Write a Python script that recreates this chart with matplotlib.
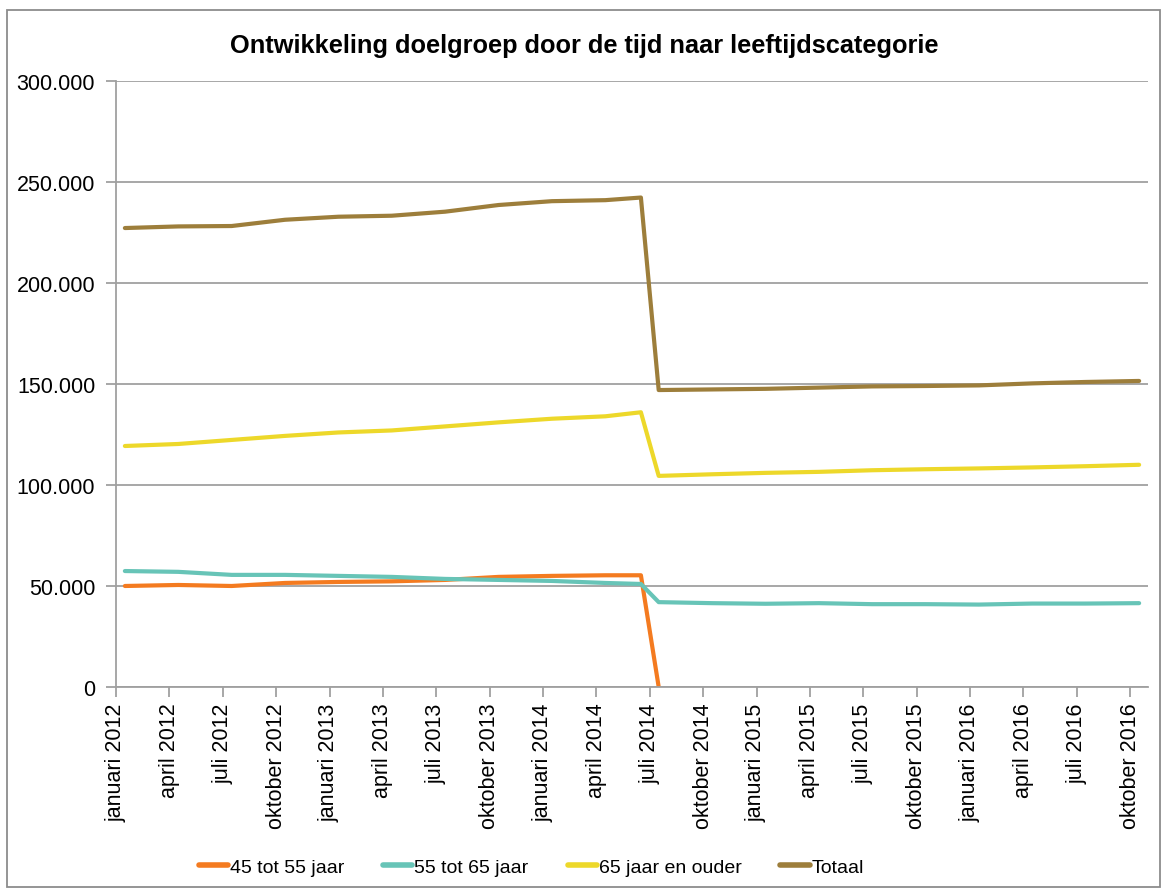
import numpy as np
import pandas as pd
import matplotlib
matplotlib.use('Agg')
import matplotlib.pyplot as plt
from matplotlib.patches import Rectangle
from matplotlib.ticker import FuncFormatter

plt.rcParams['font.family'] = ['Liberation Sans', 'DejaVu Sans']

# meetmomenten (maand) en aantallen x 1000
maanden = ['2012-01', '2012-04', '2012-07', '2012-10', '2013-01', '2013-04', '2013-07',
           '2013-10', '2014-01', '2014-04', '2014-06', '2014-07', '2014-10', '2015-01',
           '2015-04', '2015-07', '2015-10', '2016-01', '2016-04', '2016-07', '2016-10']

leeftijd_45_55 = [50.0, 50.5, 50.0, 51.5, 52.0, 52.3, 53.0, 54.5, 55.0, 55.3, 55.3, 0.0,
                  np.nan, np.nan, np.nan, np.nan, np.nan, np.nan, np.nan, np.nan, np.nan]
leeftijd_55_65 = [57.4, 57.0, 55.5, 55.5, 55.0, 54.5, 53.5, 53.0, 52.5, 51.5, 51.0, 42.0,
                  41.5, 41.2, 41.5, 41.0, 41.0, 40.8, 41.3, 41.3, 41.5]
leeftijd_65_plus = [119.3, 120.3, 122.3, 124.3, 126.0, 127.0, 129.0, 131.0, 132.8, 134.0, 136.0,
                    104.5, 105.3, 106.0, 106.5, 107.3, 107.8, 108.2, 108.7, 109.3, 110.0]
totaal = [227.2, 228.0, 228.2, 231.3, 232.8, 233.3, 235.3, 238.6, 240.5, 241.0, 242.3,
          147.0, 147.3, 147.6, 148.2, 148.8, 149.0, 149.3, 150.3, 151.0, 151.5]

maandnamen = ['januari', 'april', 'juli', 'oktober']
tick_labels = [f'{m} {j}' for j in range(2012, 2017) for m in maandnamen]

start = pd.Period('2012-01', freq='M')
x = np.array([(pd.Period(m, freq='M') - start).n for m in maanden]) + 0.5

series = [
    ('45 tot 55 jaar', leeftijd_45_55, '#F47B20'),
    ('55 tot 65 jaar', leeftijd_55_65, '#67C4B7'),
    ('65 jaar en ouder', leeftijd_65_plus, '#EDD82A'),
    ('Totaal', totaal, '#9D7E3B'),
]

fig = plt.figure(figsize=(11.68, 8.95), dpi=100)
ax = fig.add_axes([0.0993, 0.2313, 0.8836, 0.6771])

for naam, waarden, kleur in series:
    ax.plot(x, np.array(waarden) * 1000, color=kleur, linewidth=3, label=naam,
            solid_joinstyle='round', solid_capstyle='round')

ax.set_xlim(0, 58)
ax.set_ylim(0, 300000)
ax.set_yticks(np.arange(0, 300001, 50000))
ax.yaxis.set_major_formatter(FuncFormatter(lambda v, p: f'{int(v):,}'.replace(',', '.')))
ax.set_xticks(np.arange(0, 58, 3))
ax.set_xticklabels(tick_labels, rotation=90)

ax.grid(axis='y', color='#A0A0A0', linewidth=1.3)
ax.set_axisbelow(True)
for s in ['top', 'right']:
    ax.spines[s].set_visible(False)
for s in ['left', 'bottom']:
    ax.spines[s].set_color('#A0A0A0')
    ax.spines[s].set_linewidth(1.3)
ax.tick_params(axis='both', colors='#A0A0A0', length=7, width=1.3, labelsize=15.5,
               labelcolor='black')
ax.tick_params(axis='y', pad=8)
ax.tick_params(axis='x', pad=4)

fig.text(0.5, 0.949, 'Ontwikkeling doelgroep door de tijd naar leeftijdscategorie',
         ha='center', va='center', fontsize=18.3, fontweight='bold')

leg = fig.legend(loc='center', bbox_to_anchor=(0.455, 0.03), ncol=4, frameon=False,
                 fontsize=14, handlelength=1.5, handletextpad=0.1, columnspacing=2.0)
for h in leg.get_lines():
    h.set_linewidth(4)

fig.patches.append(Rectangle((7 / 1168, 7 / 895), 1153 / 1168, 877 / 895,
                             transform=fig.transFigure, fill=False,
                             edgecolor='#8C8C8C', linewidth=1.3))

plt.savefig('out.png', dpi=100)
